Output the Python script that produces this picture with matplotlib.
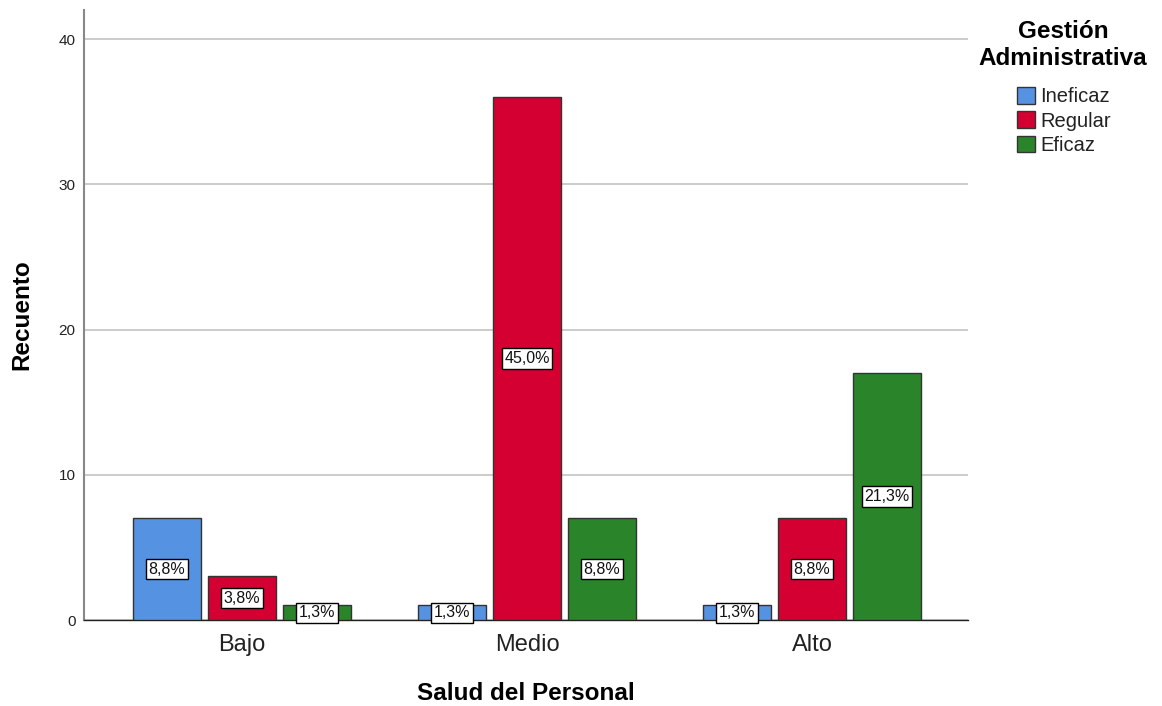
import matplotlib
matplotlib.use("Agg")
import matplotlib.pyplot as plt
import numpy as np

plt.rcParams['font.family'] = ['Liberation Sans', 'DejaVu Sans']

categories = ["Bajo", "Medio", "Alto"]
series_names = ["Ineficaz", "Regular", "Eficaz"]
counts = {
    "Ineficaz": [7, 1, 1],
    "Regular": [3, 36, 7],
    "Eficaz": [1, 7, 17],
}
labels = {
    "Ineficaz": ["8,8%", "1,3%", "1,3%"],
    "Regular": ["3,8%", "45,0%", "8,8%"],
    "Eficaz": ["1,3%", "8,8%", "21,3%"],
}
colors = {"Ineficaz": "#5592E2", "Regular": "#D50032", "Eficaz": "#2A852A"}
yticks = [0, 10, 20, 30, 40]

fig = plt.figure(figsize=(11.62, 7.06), dpi=100)
ax = fig.add_axes([84/1162, 1-620/706, (968-84)/1162, (620-10)/706])

x = np.arange(len(categories))
width = 0.2386
offset = 0.263
for i, s in enumerate(series_names):
    xs = x + (i - 1) * offset
    ax.bar(xs, counts[s], width, color=colors[s], edgecolor="#333333",
           linewidth=1.0, zorder=3, label=s)
    for xi, v, lab in zip(xs, counts[s], labels[s]):
        ax.text(xi, v / 2, lab, ha="center", va="center", fontsize=11.5, zorder=5,
                color="#111111",
                bbox=dict(boxstyle="square,pad=0.17", fc="white", ec="black", lw=1.0))

ax.set_xlim(-0.554, 2.547)
ax.set_ylim(0, 42)
ax.set_yticks(yticks)
ax.set_yticklabels([str(t) for t in yticks], fontsize=11, color="#222222")
ax.set_xticks(x)
ax.set_xticklabels(categories, fontsize=17, color="#222222")
ax.tick_params(axis="both", length=0)
ax.tick_params(axis="x", pad=10)
ax.tick_params(axis="y", pad=6)
ax.yaxis.grid(True, color="#C8C8C8", linewidth=1.3, zorder=0)
ax.set_axisbelow(True)
for sp in ["top", "right"]:
    ax.spines[sp].set_visible(False)
ax.spines["left"].set_color("#888888")
ax.spines["left"].set_linewidth(1.5)
ax.spines["bottom"].set_color("#222222")
ax.spines["bottom"].set_linewidth(1.0)

ax.set_ylabel("Recuento", fontsize=17.5, fontweight="bold", va="center")
ax.yaxis.set_label_coords((22-84)/884, 0.5)
ax.set_xlabel("Salud del Personal", fontsize=17.5, fontweight="bold", va="center")
ax.xaxis.set_label_coords(0.5, (620-693)/610)

fig.text(1063/1162, 1-45/706, "Gestión\nAdministrativa", ha="center", va="center",
         fontsize=17.5, fontweight="bold", linespacing=1.19)

handles, labs = ax.get_legend_handles_labels()
leg = fig.legend(handles, labs, loc="upper left", bbox_to_anchor=(1017/1162, 1-87/706),
                 frameon=False, fontsize=14.5, handlelength=0.9, handleheight=0.9,
                 handletextpad=0.25, labelspacing=0.25, borderpad=0, borderaxespad=0)
for t in leg.get_texts():
    t.set_color("#222222")

fig.savefig("out.png", dpi=100)
